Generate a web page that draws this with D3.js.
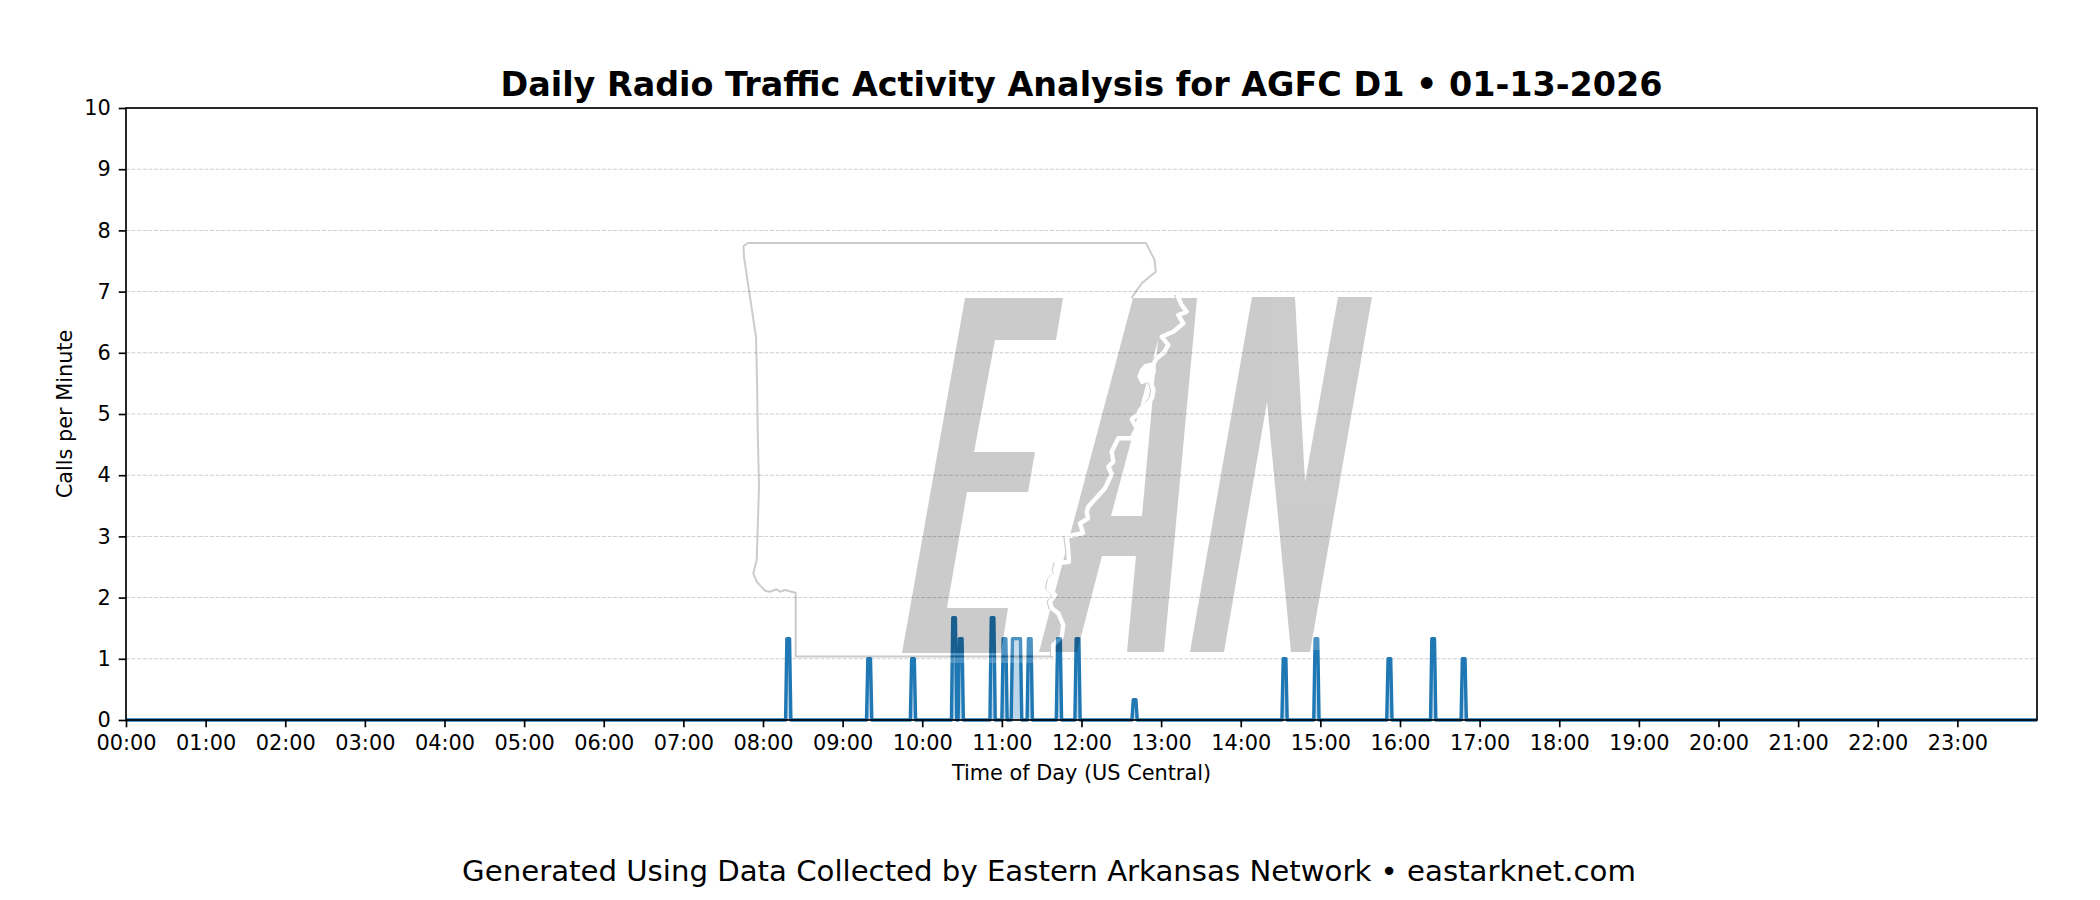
<!DOCTYPE html>
<html><head><meta charset="utf-8">
<script src="https://cdn.jsdelivr.net/npm/d3@7"></script>
<style>html,body{margin:0;padding:0;background:#fff}svg{display:block}text{font-family:"DejaVu Sans";fill:#000}</style>
</head><body><svg id="c" width="2100" height="900"></svg>
<script>
const titleText = "Daily Radio Traffic Activity Analysis for AGFC D1 • 01-13-2026";
const footerText = "Generated Using Data Collected by Eastern Arkansas Network • eastarknet.com";
const xLabel = "Time of Day (US Central)";
const yLabel = "Calls per Minute";
const hourLabels = ["00:00","01:00","02:00","03:00","04:00","05:00","06:00","07:00","08:00","09:00","10:00","11:00","12:00","13:00","14:00","15:00","16:00","17:00","18:00","19:00","20:00","21:00","22:00","23:00"];
const yTicks = [0,1,2,3,4,5,6,7,8,9,10];
// minute of day -> calls per minute (3-minute rolling readings); every other minute reads 0
const activeMinutes = [498,499,500, 559,560,561, 592,593,594, 623,624,625, 628,629,630, 652,653,654, 661,662,663,
  668,669,670,671,672,673,674, 680,681,682, 702,703,704, 716,717,718, 759,760,761, 872,873,874, 896,897,898, 951,952,953, 984,985,986, 1007,1008,1009];
const activeValues = [1.33,1.33,1.33, 1,1,1, 1,1,1, 1.67,1.67,1.67, 1.33,1.33,1.33, 1.67,1.67,1.67, 1.33,1.33,1.33,
  1.33,1.33,1.33,1.33,1.33,1.33,1.33, 1.33,1.33,1.33, 1.33,1.33,1.33, 1.33,1.33,1.33, 0.33,0.33,0.33, 1,1,1, 1.33,1.33,1.33, 1,1,1, 1.33,1.33,1.33, 1,1,1];

// watermark tracing (page coordinates of the logo artwork)
const logoE = [[965,298],[1063,298],[1056,340],[995,340],[974,452],[1035,452],[1028,492],[967,492],[947,608],[1008,608],[1001,653],[902,653]];
const logoA = [[1133,298],[1197,298],[1164,652],[1127,652],[1136,556],[1102,556],[1077,652],[1039,652]];
const logoACounter = [[1158,340],[1142,516],[1111,516]];
const logoN = [[1252,297],[1295,297],[1305,482],[1338,297],[1372,297],[1310,652],[1291,652],[1267,402],[1224,652],[1190,652]];
const logoHalos = [[[940,632],[1056,632],[1056,663],[940,663]],[[1311,632],[1321,632],[1321,650],[1311,650]]];
const stateLine = [[1131.5,298],[1137,290],[1142,283],[1155.8,271.7],[1154.6,260],[1146,243],[748,243],[743.5,246],[744,257],[750,297],[756,337],[757,380],[757.7,430],[759,487],[757.5,535],[756.7,560],[753.3,573.3],[756.7,581.7],[765,590.7],[770,591.7],[776.7,589.3],[780,591.7],[785,590],[795.7,592.7],[795.7,656.5],[1053.3,656.5]];
const river = [[1177.3,295],[1181.7,305],[1186.7,311.7],[1178.3,315],[1183.3,323.3],[1173.3,331.7],[1161.7,336.7],[1168.3,345],[1163.3,353.3],[1156.7,358.3],[1153,365],[1150,380],[1153.5,390],[1152,398],[1148,403],[1140,410],[1138.3,414],[1131.7,419.3],[1136.7,428.3],[1131.7,438.3],[1118.3,438.3],[1111.7,451.7],[1113.3,461.7],[1108.3,466.7],[1111.7,474],[1105,488.3],[1088.3,506.7],[1086.7,512],[1088,518.3],[1080,523.3],[1083,533],[1066.7,536.7],[1068.3,550],[1069,561.7],[1056.7,563.3],[1055,570],[1056.7,573.3],[1050,580],[1048.3,588.3],[1055,595],[1050,601.7],[1051.7,608.3],[1058.3,613.3],[1063.3,625],[1061.7,636.7],[1053.3,645],[1053.3,656]];
const riverBlob = [[1145,365],[1153.3,363.3],[1155,371.7],[1150,380],[1141.7,383.3],[1138.3,376.7],[1140.7,370]];

const L=126,R=2037,T=108,B=720;
const svg=d3.select("#c");
const x=d3.scaleLinear().domain([0,1440]).range([L,R]);
const y=d3.scaleLinear().domain([0,10]).range([B,T]);
const lookup=new Map(activeMinutes.map((m,i)=>[m,activeValues[i]]));
const series=d3.range(0,1441).map(m=>({m,v:lookup.get(m)||0}));

// grid
svg.append("g").selectAll("line").data(yTicks).join("line")
  .attr("x1",L).attr("x2",R).attr("y1",d=>y(d)).attr("y2",d=>y(d))
  .attr("stroke","#b0b0b0").attr("stroke-opacity",.6).attr("stroke-width",1.04).attr("stroke-dasharray","3.9 1.7");
// series
svg.append("path").datum(series).attr("fill","#1f77b4").attr("fill-opacity",.3)
  .attr("d",d3.area().x(d=>x(d.m)).y0(y(0)).y1(d=>y(d.v)));
svg.append("path").datum(series).attr("fill","none").attr("stroke","#1f77b4").attr("stroke-width",3.4)
  .attr("stroke-linejoin","round").attr("d",d3.line().x(d=>x(d.m)).y(d=>y(d.v)));
// watermark
const ln=d3.line(), poly=p=>ln(p)+"Z";
const logo=svg.append("g").attr("opacity",.2);
logo.selectAll(".h").data(logoHalos).join("path").attr("d",poly).attr("fill","#fff");
logo.append("path").attr("fill","#000").attr("fill-rule","evenodd")
  .attr("d",poly(logoE)+poly(logoA)+poly(logoACounter)+poly(logoN));
logo.append("path").attr("d",ln(river)).attr("transform","translate(-2.6,0)").attr("fill","none").attr("stroke","#000").attr("stroke-width",1.5).attr("stroke-linejoin","round");
logo.append("path").attr("d",ln(stateLine)).attr("fill","none").attr("stroke","#000").attr("stroke-width",2).attr("stroke-linejoin","round");
logo.append("path").attr("d",ln(river)).attr("fill","none").attr("stroke","#fff").attr("stroke-width",4.4).attr("stroke-linejoin","round");
logo.append("path").attr("d",poly(riverBlob)).attr("fill","#fff").attr("stroke","#fff").attr("stroke-width",2);
// axes
const xAxis=d3.axisBottom(x).tickValues(hourLabels.map((_,i)=>i*60)).tickFormat((d,i)=>hourLabels[i]).tickSize(7.3).tickPadding(8);
const yAxis=d3.axisLeft(y).tickValues(yTicks).tickFormat(d3.format("d")).tickSize(7.3).tickPadding(8);
const gx=svg.append("g").attr("transform",`translate(0,${B})`).call(xAxis);
const gy=svg.append("g").attr("transform",`translate(${L},0)`).call(yAxis);
[gx,gy].forEach(g=>{g.select(".domain").remove();
  g.selectAll("line").attr("stroke","#000").attr("stroke-width",1.67);
  g.selectAll("text").attr("font-size",20.83).attr("font-family","DejaVu Sans").attr("fill","#000");});
svg.append("rect").attr("x",L).attr("y",T).attr("width",R-L).attr("height",B-T).attr("fill","none").attr("stroke","#000").attr("stroke-width",1.67);
// text
svg.append("text").attr("x",(L+R)/2).attr("y",96).attr("text-anchor","middle").attr("font-size",33.4).attr("font-weight","bold").text(titleText);
svg.append("text").attr("x",(L+R)/2).attr("y",780).attr("text-anchor","middle").attr("font-size",20.83).text(xLabel);
svg.append("text").attr("transform",`translate(72,${(T+B)/2}) rotate(-90)`).attr("text-anchor","middle").attr("font-size",20.83).text(yLabel);
svg.append("text").attr("x",1049).attr("y",881).attr("text-anchor","middle").attr("font-size",29.2).text(footerText);
</script></body></html>
